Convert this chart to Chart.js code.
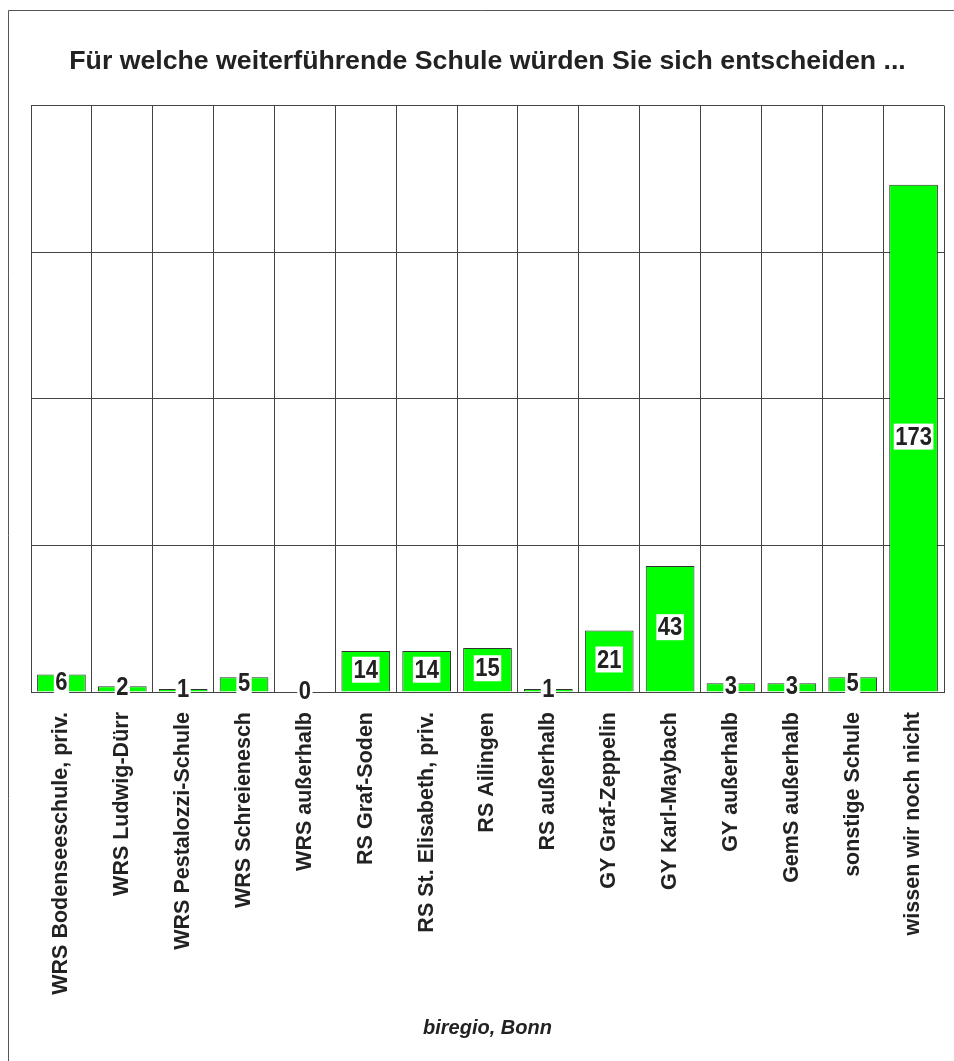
<!DOCTYPE html>
<html lang="de">
<head>
    <meta charset="UTF-8">
    <title>Für welche weiterführende Schule würden Sie sich entscheiden ...</title>
    <script src="https://cdn.jsdelivr.net/npm/chart.js"></script>
    <style>
        body { margin: 0; background: #fff; }
        #wrap { width: 954px; height: 1061px; position: relative; }
    </style>
</head>
<body>
    <div id="wrap">
        <canvas id="schoolChart" width="954" height="1061"></canvas>
    </div>

    <script>
        const categories = [
            "WRS Bodenseeschule, priv.",
            "WRS Ludwig-Dürr",
            "WRS Pestalozzi-Schule",
            "WRS Schreienesch",
            "WRS außerhalb",
            "RS Graf-Soden",
            "RS St. Elisabeth, priv.",
            "RS Ailingen",
            "RS außerhalb",
            "GY Graf-Zeppelin",
            "GY Karl-Maybach",
            "GY außerhalb",
            "GemS außerhalb",
            "sonstige Schule",
            "wissen wir noch nicht"
        ];
        const counts = [6, 2, 1, 5, 0, 14, 14, 15, 1, 21, 43, 3, 3, 5, 173];
        const yTicks = [0, 50, 100, 150, 200];

        const fontFamily = '"Liberation Sans", Arial, sans-serif';

        // frame line on the left and top of the picture
        const framePlugin = {
            id: 'frame',
            beforeDraw(chart) {
                const ctx = chart.ctx;
                ctx.save();
                ctx.strokeStyle = '#555';
                ctx.lineWidth = 1;
                ctx.beginPath();
                ctx.moveTo(8.5, 1061);
                ctx.lineTo(8.5, 10.5);
                ctx.lineTo(954, 10.5);
                ctx.stroke();
                ctx.restore();
            }
        };

        // value labels in white boxes, centred on the bars
        const valueLabels = {
            id: 'valueLabels',
            afterDatasetsDraw(chart) {
                const ctx = chart.ctx;
                const meta = chart.getDatasetMeta(0);
                ctx.save();
                ctx.font = 'bold 22px ' + fontFamily;
                ctx.textAlign = 'center';
                ctx.textBaseline = 'middle';
                meta.data.forEach((bar, i) => {
                    const txt = String(counts[i]);
                    const w = ctx.measureText(txt).width + 3;
                    const h = 26;
                    const cx = bar.x;
                    const cy = (bar.y + bar.base) / 2 - 1.5;
                    ctx.fillStyle = '#fff';
                    ctx.fillRect(cx - w / 2, cy - h / 2, w, h);
                    ctx.save();
                    ctx.translate(cx, cy);
                    ctx.scale(1, 1.15);
                    ctx.fillStyle = '#222';
                    ctx.fillText(txt, 0, 1);
                    ctx.restore();
                });
                ctx.restore();
            }
        };

        new Chart(document.getElementById('schoolChart'), {
            type: 'bar',
            data: {
                labels: categories,
                datasets: [{
                    data: counts,
                    backgroundColor: '#00ff00',
                    borderColor: '#333',
                    borderWidth: 1,
                    categoryPercentage: 0.8,
                    barPercentage: 1
                }]
            },
            options: {
                responsive: false,
                animation: false,
                layout: { padding: { left: 31, right: 10, top: 0, bottom: 0 } },
                plugins: {
                    legend: { display: false },
                    tooltip: { enabled: false },
                    title: {
                        display: true,
                        text: 'Für welche weiterführende Schule würden Sie sich entscheiden ...',
                        color: '#222',
                        font: { family: fontFamily, size: 26.7, weight: 'bold' },
                        padding: { top: 46, bottom: 27.5 }
                    },
                    subtitle: {
                        display: true,
                        position: 'bottom',
                        text: 'biregio, Bonn',
                        color: '#222',
                        font: { family: fontFamily, size: 20, weight: 'bold', style: 'italic' },
                        padding: { top: 0, bottom: 21 }
                    }
                },
                scales: {
                    x: {
                        offset: true,
                        grid: { offset: true, color: '#444', drawTicks: false },
                        border: { color: '#444' },
                        ticks: {
                            color: '#222',
                            font: { family: fontFamily, size: 21.5, weight: 'bold' },
                            minRotation: 90,
                            maxRotation: 90,
                            autoSkip: false,
                            padding: 20
                        },
                        afterFit(scale) {
                            scale.height = 324;
                            scale.paddingLeft = 0;
                            scale.paddingRight = 0;
                        }
                    },
                    y: {
                        min: 0,
                        max: 200,
                        afterBuildTicks(scale) { scale.ticks = yTicks.map(v => ({ value: v })); },
                        grid: { color: '#444', drawTicks: false },
                        border: { color: '#444' },
                        ticks: { display: false },
                        afterFit(scale) { scale.width = 0; }
                    }
                }
            },
            plugins: [framePlugin, valueLabels]
        });
    </script>
</body>
</html>
